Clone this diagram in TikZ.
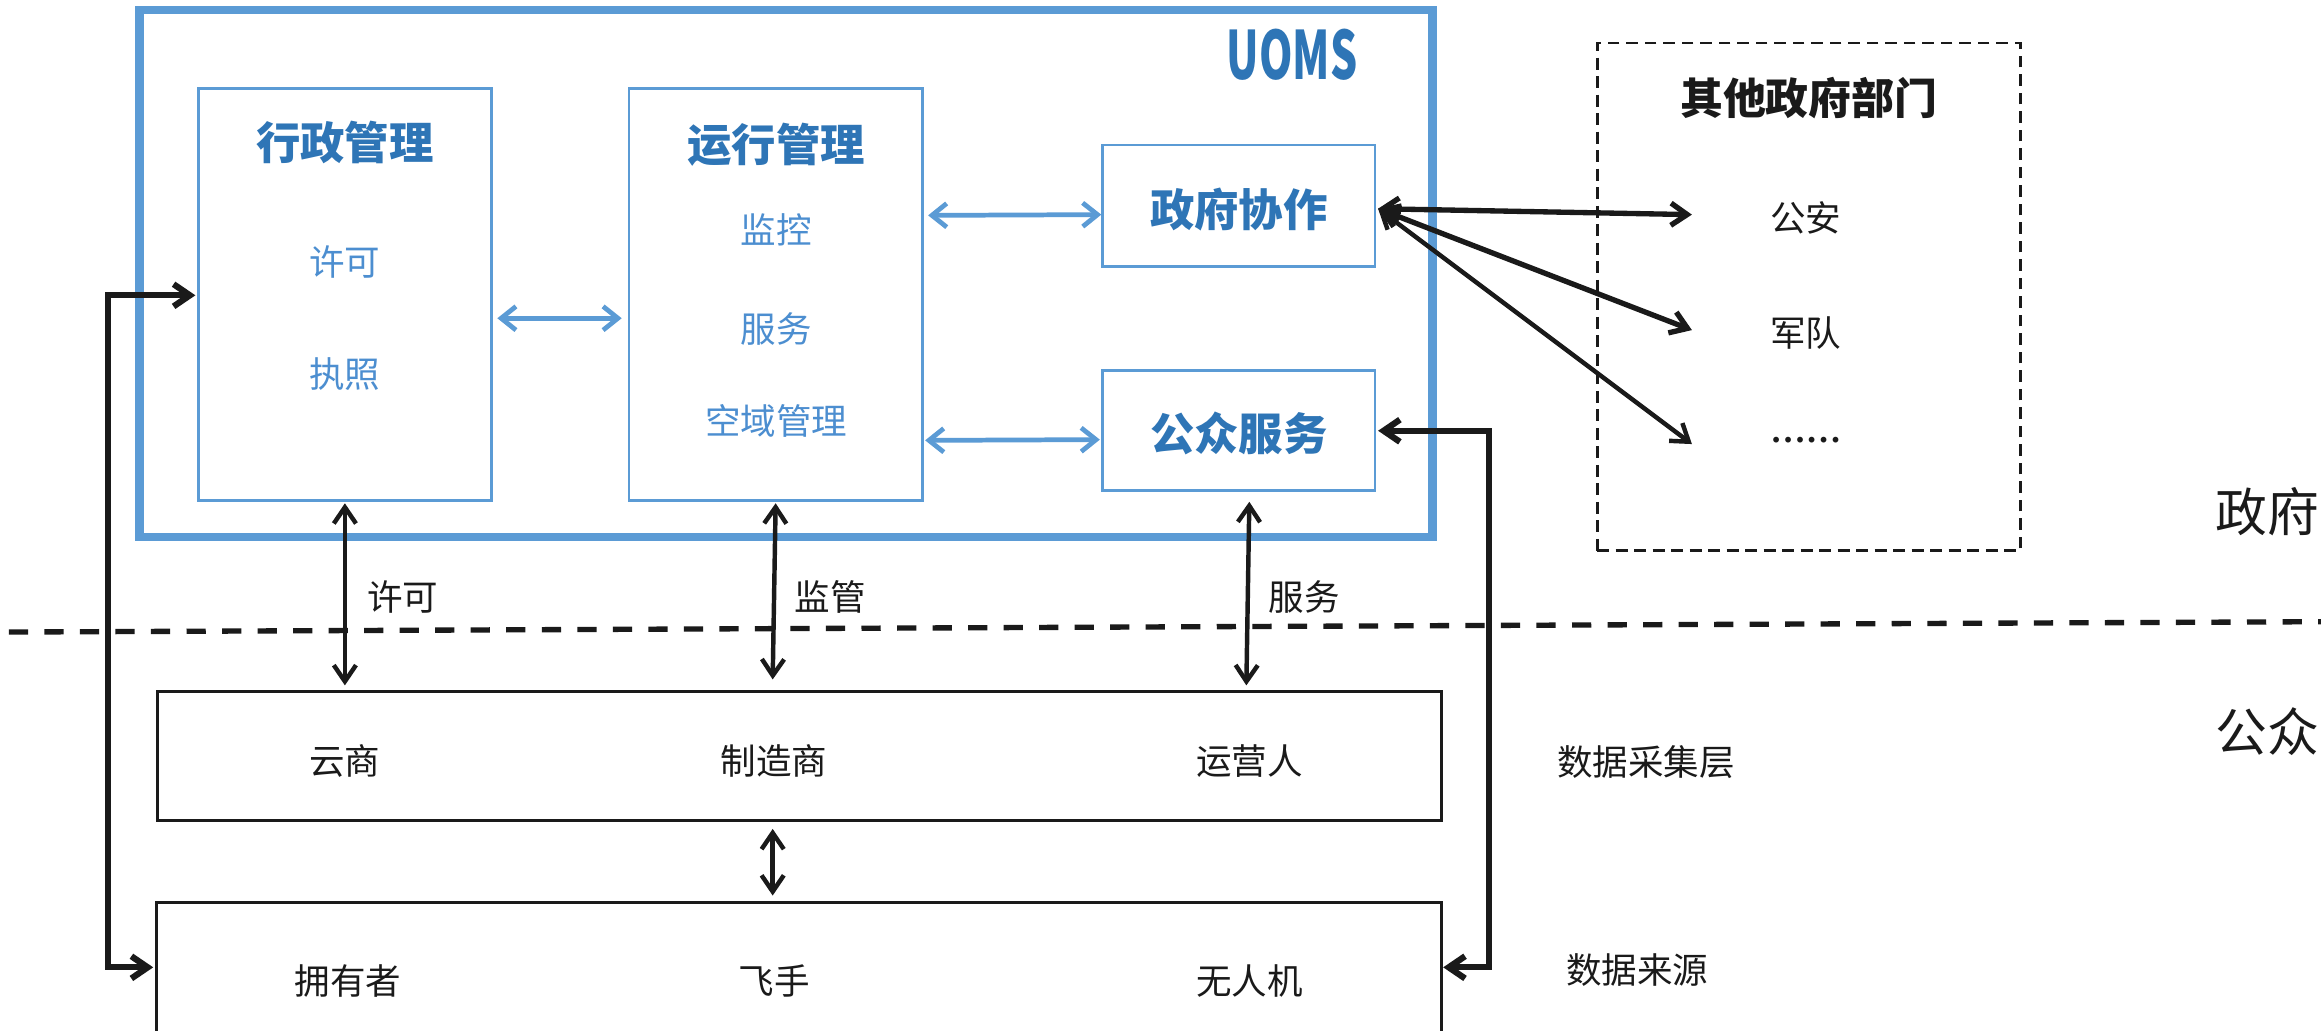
\documentclass[tikz,border=0pt]{standalone}
\usepackage{fontspec}
\setmainfont{Noto Sans CJK SC}
\newfontfamily\dotsfont{Liberation Serif}
\usepackage{graphicx}
\usetikzlibrary{arrows.meta,calc}
\definecolor{ublue}{HTML}{5B9BD5}
\definecolor{tblue}{HTML}{2E75B6}
\definecolor{iblue}{HTML}{4C8ED0}
\definecolor{ink}{HTML}{1A1A1A}
\begin{document}
\begin{tikzpicture}[x=1pt,y=-1pt,
  bbox/.style={draw=ublue,line width=1.8pt,inner sep=0pt},
  kbox/.style={draw=ink,line width=2pt,inner sep=0pt},
  ttl/.style={text=tblue,inner sep=0pt,font=\fontsize{30}{30}\selectfont\bfseries},
  itm/.style={text=iblue,inner sep=0pt,font=\fontsize{24}{24}\selectfont},
  lbl/.style={text=ink,inner sep=0pt,font=\fontsize{24}{24}\selectfont},
  blarr/.style={draw=ublue,line width=3.2pt,{Straight Barb[length=10pt,width=16pt]}-{Straight Barb[length=10pt,width=16pt]}},
  karr/.style={draw=ink,line width=#1,{Straight Barb[length=11pt,width=15pt]}-{Straight Barb[length=11pt,width=15pt]}},
  karr/.default=3pt]
\useasboundingbox (0,0) rectangle (1568,696);
\fill[white] (0,0) rectangle (1568,696);

% UOMS frame
\node[draw=ublue,line width=5.5pt,inner sep=0pt,minimum width=873.5pt,minimum height=356pt] (uoms) at (531,185) {};
\node[text=tblue,inner sep=0pt,font=\fontsize{45}{45}\selectfont\bfseries] (uomst) at (873,37) {\scalebox{0.64}[1]{UOMS}};

% inner blue boxes
\node[bbox,minimum width=198pt,minimum height=278pt] (xz) at (233,199) {};
\node[bbox,minimum width=198pt,minimum height=278pt] (yx) at (524,199) {};
\node[bbox,minimum width=184pt,minimum height=82pt] (zf) at (837,139) {};
\node[bbox,minimum width=184pt,minimum height=81pt] (gz) at (837,291) {};

\node[ttl] (xzt) at (233,96) {行政管理};
\node[itm] (xk) at (233,177) {许可};
\node[itm] (zz1) at (233,253) {执照};
\node[ttl] (yxt) at (524.5,97.5) {运行管理};
\node[itm] (jk) at (524.5,155) {监控};
\node[itm] (fw) at (524.5,222.5) {服务};
\node[itm] (ky) at (524.5,284.5) {空域管理};
\node[ttl] (zft) at (837,141.5) {政府协作};
\node[ttl] (gzt) at (837,293) {公众服务};

% blue connectors
\draw[blarr] (336,215) -- (420,215);
\draw[blarr] (627,145.5) -- (744,145);
\draw[blarr] (625,297.5) -- (743,297);

% other departments
\node[draw=ink,line width=1.8pt,dash pattern=on 8pt off 4.5pt,inner sep=0pt,minimum width=286pt,minimum height=343pt] (other) at (1222,200.5) {};
\node[lbl,font=\fontsize{29}{29}\selectfont\bfseries] (othert) at (1222,66) {其他政府部门};
\node[lbl] (ga) at (1220,147) {公安};
\node[lbl] (jd) at (1220,225) {军队};
\node[lbl,font=\fontsize{24}{24}\dotsfont\bfseries] (more) at (1220,297) {……};
\coordinate (zfo) at (931,141);
\coordinate (tga) at (1143,145);
\coordinate (tjd) at (1143,223);
\coordinate (tmo) at (1143,300);
\draw[karr=3.6pt] (zfo) -- (tga);
\draw[karr=3.6pt] (zfo) -- (tjd);
\draw[karr=3pt] (zfo) -- (tmo);

% side labels
\node[lbl,font=\fontsize{35}{35}\selectfont] (gov) at (1532,346) {政府};
\node[lbl,font=\fontsize{35}{35}\selectfont] (pub) at (1532,494) {公众};

% divider
\coordinate (dl) at (6,427);
\coordinate (dr) at (1568,420);
\draw[ink,line width=3.6pt,dash pattern=on 13pt off 11pt] (dl) -- (dr);

% public boxes
\node[kbox,minimum width=867pt,minimum height=87pt] (dc) at (540,510.5) {};
\node[kbox,minimum width=868pt,minimum height=130pt] (ds) at (540,675) {};
\node[lbl] (ys) at (233,514) {云商};
\node[lbl] (zzs) at (523,514) {制造商};
\node[lbl] (yyr) at (844,514) {运营人};
\node[lbl] (yyz) at (235,662.5) {拥有者};
\node[lbl] (fsh) at (523,662.5) {飞手};
\node[lbl] (wrj) at (844,662.5) {无人机};
\node[lbl] (cjc) at (1112,515) {数据采集层};
\node[lbl] (sjly) at (1106,655) {数据来源};

% vertical connectors
\draw[karr] (233,340) -- (233,463);
\node[lbl] (xkl) at (272,403.5) {许可};
\draw[karr] (524,340) -- (522,459);
\node[lbl] (jgl) at (561,403.5) {监管};
\draw[karr] (844,339) -- (842,463);
\node[lbl] (fwl) at (881,403.5) {服务};
\draw[karr] (522,560) -- (522,605);

% loops
\draw[karr=4.2pt] (103.5,653.5) -- (73,653.5) -- (73,199.5) -- (132,199.5);
\draw[karr=4.2pt] (931,291) -- (1006,291) -- (1006,653.5) -- (975,653.5);
\end{tikzpicture}
\end{document}
